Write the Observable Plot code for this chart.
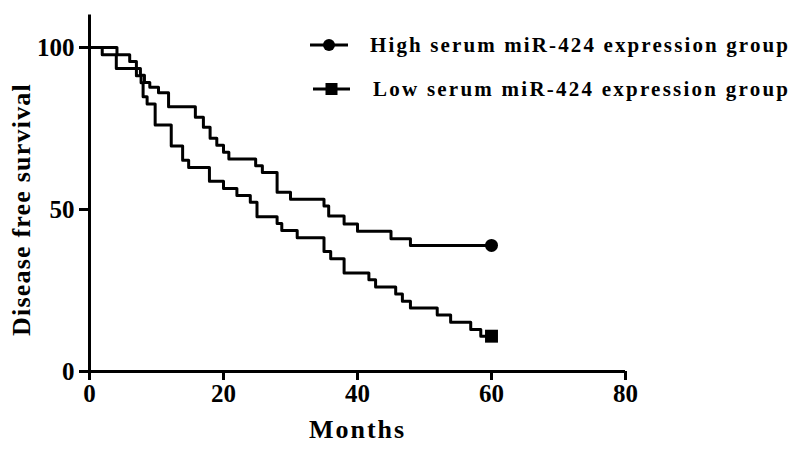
<!DOCTYPE html>
<html><head><meta charset="utf-8">
<script src="https://cdn.jsdelivr.net/npm/d3@7"></script>
<script src="https://cdn.jsdelivr.net/npm/@observablehq/plot@0.6"></script>
<style>
body{margin:0;background:#fff;}
#wrap{position:relative;width:791px;height:450px;background:#fff;}
#legend{position:absolute;left:0;top:0;}
</style></head><body><div id="wrap"></div>
<script>
const seriesNames = ["High serum miR-424 expression group", "Low serum miR-424 expression group"];
const highMonths   = [0, 4.1, 6.0, 7.0, 7.6, 8.2, 9.0, 10.3, 11.8, 15.8, 17.0, 18.0, 19.0, 20.0, 20.8, 24.8, 25.8, 28.0, 30.0, 35.0, 35.7, 38.0, 40.0, 45.0, 47.9, 60];
const highSurvival = [100, 97.8, 95.7, 93.5, 91.4, 89.2, 87.7, 86.0, 81.7, 78.5, 75.4, 72.0, 69.8, 67.7, 65.6, 63.5, 61.4, 55.3, 53.2, 51.1, 48.0, 45.5, 43.3, 41.0, 38.9, 38.9];
const lowMonths    = [0, 1.9, 4.0, 7.0, 7.7, 8.0, 8.6, 9.8, 12.2, 13.9, 14.8, 17.9, 20.0, 22.0, 24.0, 25.0, 28.0, 28.7, 31.0, 35.0, 36.0, 38.0, 41.7, 42.7, 45.7, 46.7, 47.9, 51.9, 53.9, 56.9, 58.4, 60];
const lowSurvival  = [100, 97.8, 93.5, 91.3, 89.1, 84.8, 82.6, 76.1, 69.6, 65.2, 63.0, 58.7, 56.5, 54.3, 52.2, 47.8, 45.7, 43.5, 41.3, 37.0, 34.8, 30.4, 28.3, 26.1, 23.9, 21.7, 19.6, 17.4, 15.2, 13.0, 10.9, 10.9];
const xTicks = [0, 20, 40, 60, 80];
const yTicks = [0, 50, 100];
const yAxisTop = 110;
const xLabel = "Months";
const yLabel = "Disease free survival";

const high = highMonths.map((m, i) => ({month: m, survival: highSurvival[i], group: seriesNames[0]}));
const low = lowMonths.map((m, i) => ({month: m, survival: lowSurvival[i], group: seriesNames[1]}));

const chart = Plot.plot({
  width: 791, height: 450,
  marginLeft: 89, marginRight: 166, marginTop: 47, marginBottom: 79,
  x: {domain: [0, 80]},
  y: {domain: [0, 100]},
  style: {fontFamily: "'Liberation Serif', 'Times New Roman', serif", fontWeight: "bold", background: "#fff", color: "#000"},
  marks: [
    Plot.axisX({ticks: xTicks, tickSize: 9, tickPadding: 4, strokeWidth: 3, fontSize: 25, label: null}),
    Plot.axisY({ticks: yTicks, tickSize: 10, tickPadding: 5, strokeWidth: 3, fontSize: 25, label: null}),
    Plot.ruleY([0], {strokeWidth: 3}),
    Plot.ruleX([0], {y1: 0, y2: yAxisTop, strokeWidth: 3}),
    Plot.line(high, {x: "month", y: "survival", curve: "step-after", stroke: "#000", strokeWidth: 3}),
    Plot.line(low, {x: "month", y: "survival", curve: "step-after", stroke: "#000", strokeWidth: 3}),
    Plot.dot([high[high.length - 1]], {x: "month", y: "survival", r: 6.5, fill: "#000", stroke: "none"}),
    Plot.dot([low[low.length - 1]], {x: "month", y: "survival", r: 7.3, symbol: "square", fill: "#000", stroke: "none"}),
    Plot.text([xLabel], {frameAnchor: "bottom", dy: 66, fontSize: 26, fontWeight: "bold"}),
    Plot.text([yLabel], {frameAnchor: "left", textAnchor: "middle", dx: -68, rotate: -90, fontSize: 26, fontWeight: "bold"})
  ]
});
document.getElementById("wrap").appendChild(chart);
d3.select(chart).selectAll("text").filter(function(){ return this.textContent === xLabel; }).attr("letter-spacing", "2px");
d3.select(chart).selectAll("text").filter(function(){ return this.textContent === yLabel; }).attr("letter-spacing", "1.2px");

// legend overlay
const lg = d3.select("#wrap").append("svg").attr("id", "legend").attr("width", 791).attr("height", 120);
const rows = [
  {name: seriesNames[0], y: 45, x0: 310, x1: 348, sym: "circle", tx: 370, tw: 418, base: 52},
  {name: seriesNames[1], y: 89, x0: 313, x1: 350, sym: "square", tx: 373, tw: 415, base: 96}
];
rows.forEach(r => {
  lg.append("line").attr("x1", r.x0).attr("x2", r.x1).attr("y1", r.y).attr("y2", r.y).attr("stroke", "#000").attr("stroke-width", 3);
  const cx = (r.x0 + r.x1) / 2;
  if (r.sym === "circle") lg.append("circle").attr("cx", cx).attr("cy", r.y).attr("r", 6).attr("fill", "#000");
  else lg.append("rect").attr("x", cx - 6).attr("y", r.y - 6).attr("width", 12).attr("height", 12).attr("fill", "#000");
  lg.append("text").attr("x", r.tx).attr("y", r.base).attr("textLength", r.tw).attr("lengthAdjust", "spacing")
    .attr("font-family", "'Liberation Serif', 'Times New Roman', serif").attr("font-weight", "bold").attr("font-size", 21)
    .text(r.name);
});
</script></body></html>
